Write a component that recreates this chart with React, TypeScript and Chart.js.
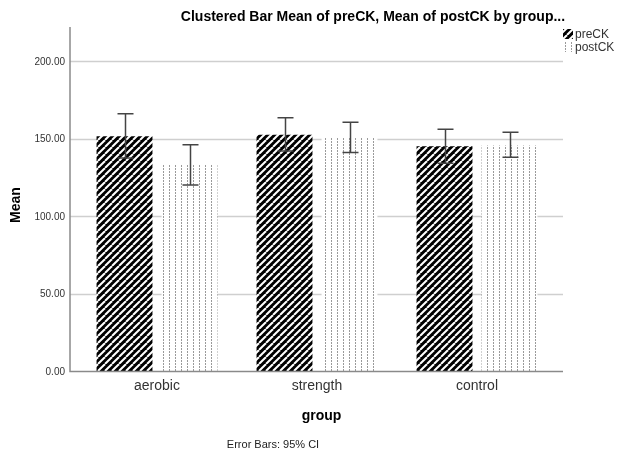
import React, { useEffect, useRef } from "react";
import { Chart, registerables } from "chart.js";

Chart.register(...registerables);

const groups = ["aerobic", "strength", "control"];
const preCK = [151.5, 152.5, 145];
const postCK = [133, 150.5, 145.5];
const preLow = [137.5, 142, 134];
const preHigh = [166, 163.5, 156];
const postLow = [120, 141, 138];
const postHigh = [146, 160.5, 154];
const yTicks = [0, 50, 100, 150, 200];
const seriesNames = ["preCK", "postCK"];
const titleText = "Clustered Bar Mean of preCK, Mean of postCK by group...";
const xTitle = "group";
const yTitle = "Mean";
const footerText = "Error Bars: 95% CI";

const FONT = '"Liberation Sans", Arial, sans-serif';

function makeStripe(ctx: CanvasRenderingContext2D): CanvasPattern {
  const s = 7;
  const c = document.createElement("canvas");
  c.width = s;
  c.height = s;
  const g = c.getContext("2d")!;
  g.fillStyle = "#000";
  g.fillRect(0, 0, s, s);
  g.strokeStyle = "#fff";
  g.lineWidth = 2;
  for (const o of [-s, 0, s]) {
    g.beginPath();
    g.moveTo(o, s);
    g.lineTo(o + s, 0);
    g.stroke();
  }
  return ctx.createPattern(c, "repeat")!;
}

function makeDots(ctx: CanvasRenderingContext2D): CanvasPattern {
  const c = document.createElement("canvas");
  c.width = 6;
  c.height = 3;
  const g = c.getContext("2d")!;
  g.fillStyle = "#fff";
  g.fillRect(0, 0, 6, 3);
  g.fillStyle = "#9a9a9a";
  g.fillRect(1, 0, 1, 2);
  return ctx.createPattern(c, "repeat")!;
}

export default function App() {
  const ref = useRef<HTMLCanvasElement | null>(null);

  useEffect(() => {
    const canvas = ref.current!;
    const ctx = canvas.getContext("2d")!;
    const stripe = makeStripe(ctx);
    const dots = makeDots(ctx);
    const lows = [preLow, postLow];
    const highs = [preHigh, postHigh];

    const deco = {
      id: "deco",
      beforeDatasetsDraw(chart: any) {
        const c = chart.ctx;
        const a = chart.chartArea;
        const y = chart.scales.y;
        c.save();
        c.strokeStyle = "#cfcfcf";
        c.lineWidth = 1.5;
        for (const t of yTicks) {
          if (t === 0) continue;
          const py = Math.round(y.getPixelForValue(t)) + 0.5;
          c.beginPath();
          c.moveTo(a.left - 7, py);
          c.lineTo(a.right + 6, py);
          c.stroke();
        }
        c.restore();
      },
      afterDatasetsDraw(chart: any) {
        const c = chart.ctx;
        const a = chart.chartArea;
        const y = chart.scales.y;
        c.save();
        // error bars
        c.strokeStyle = "#444";
        c.lineWidth = 1.5;
        for (let d = 0; d < 2; d++) {
          const meta = chart.getDatasetMeta(d);
          meta.data.forEach((bar: any, i: number) => {
            const x = Math.round(bar.x) + 0.5;
            const lo = y.getPixelForValue(lows[d][i]);
            const hi = y.getPixelForValue(highs[d][i]);
            c.beginPath();
            c.moveTo(x, lo);
            c.lineTo(x, hi);
            c.moveTo(x - 8, hi);
            c.lineTo(x + 8, hi);
            c.moveTo(x - 8, lo);
            c.lineTo(x + 8, lo);
            c.stroke();
          });
        }
        // axes
        const left = a.left - 7;
        const bottom = Math.round(y.getPixelForValue(0)) + 0.5;
        c.strokeStyle = "#8a8a8a";
        c.lineWidth = 1.5;
        c.beginPath();
        c.moveTo(left, a.top);
        c.lineTo(left, bottom);
        c.lineTo(a.right + 6, bottom);
        c.stroke();
        // y tick labels
        c.fillStyle = "#333";
        c.font = `10px ${FONT}`;
        c.textAlign = "right";
        c.textBaseline = "middle";
        for (const t of yTicks) {
          c.fillText(t.toFixed(2), left - 5, y.getPixelForValue(t) + 1);
        }
        // x labels
        const xs = chart.scales.x;
        c.font = `14px ${FONT}`;
        c.textAlign = "center";
        c.fillStyle = "#333";
        groups.forEach((gname, i) => {
          c.fillText(gname, xs.getPixelForValue(i), bottom + 15);
        });
        // axis titles
        c.fillStyle = "#000";
        c.font = `bold 14px ${FONT}`;
        c.fillText(xTitle, (left + a.right + 6) / 2 + 5, bottom + 45);
        c.save();
        c.translate(16, 205);
        c.rotate(-Math.PI / 2);
        c.fillText(yTitle, 0, 0);
        c.restore();
        // title
        c.font = `bold 14px ${FONT}`;
        c.fillText(titleText, 373, 17);
        // footer
        c.font = `11px ${FONT}`;
        c.fillStyle = "#222";
        c.fillText(footerText, 273, 445);
        // legend
        c.textAlign = "left";
        c.font = `12px ${FONT}`;
        c.fillStyle = "#333";
        const pats = [stripe, dots];
        [29, 42].forEach((ly, k) => {
          c.fillStyle = pats[k];
          c.fillRect(563, ly, 10, 10);
          c.fillStyle = "#333";
          c.fillText(seriesNames[k], 575, ly + 6);
        });
        c.restore();
      },
    };

    const chart = new Chart(canvas, {
      type: "bar",
      data: {
        labels: groups,
        datasets: [
          {
            label: seriesNames[0],
            data: preCK,
            backgroundColor: stripe as any,
            borderWidth: 0,
            barPercentage: 0.86,
            categoryPercentage: 0.8125,
          },
          {
            label: seriesNames[1],
            data: postCK,
            backgroundColor: dots as any,
            borderWidth: 0,
            barPercentage: 0.86,
            categoryPercentage: 0.8125,
          },
        ],
      },
      options: {
        responsive: false,
        animation: false,
        layout: { padding: { left: 77, right: 62, top: 27, bottom: 83 } },
        scales: {
          x: { type: "category", display: false, offset: true },
          y: { display: false, min: 0, max: 222 },
        },
        plugins: {
          legend: { display: false },
          tooltip: { enabled: false },
          title: { display: false },
        },
      },
      plugins: [deco],
    });
    return () => chart.destroy();
  }, []);

  return (
    <div style={{ position: "absolute", left: 0, top: 0, width: 619, height: 454, background: "#fff" }}>
      <canvas ref={ref} width={619} height={454} style={{ width: 619, height: 454, display: "block" }} />
    </div>
  );
}
